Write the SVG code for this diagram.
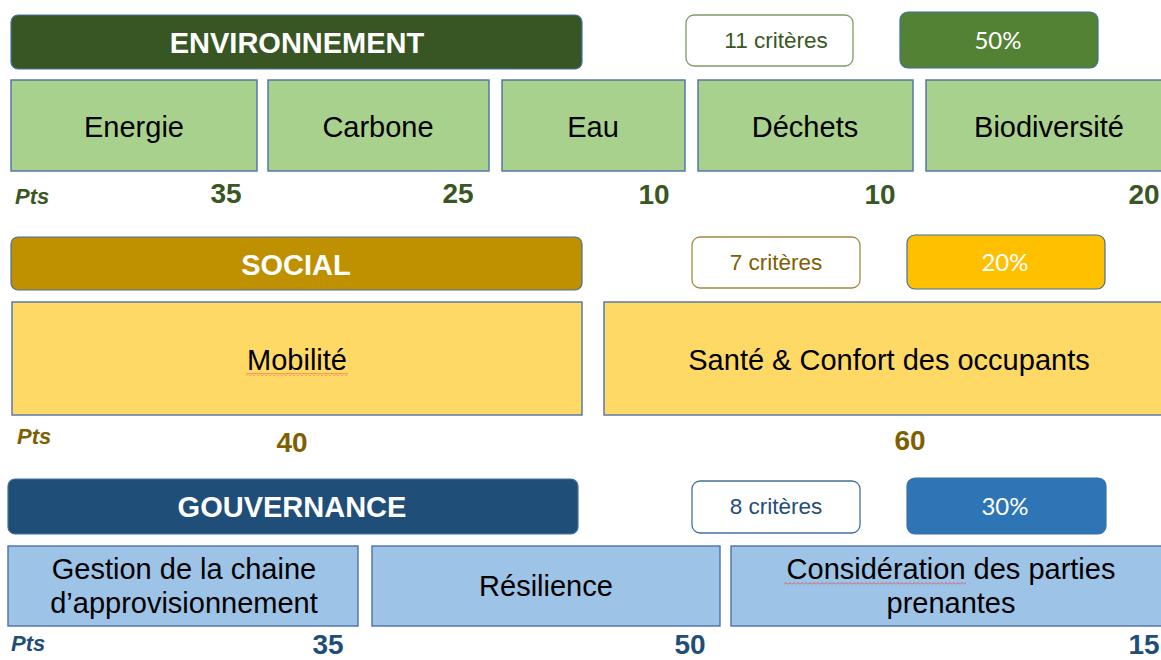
<svg xmlns="http://www.w3.org/2000/svg" width="1161" height="660" viewBox="0 0 1161 660">
<defs>
<style>
.hdr{stroke:#4A6FA0;stroke-width:1.2}
.hdrt{font-family:"Liberation Sans",Arial,sans-serif;font-weight:bold;font-size:29px;fill:#ffffff;text-anchor:middle}
.crit{fill:#ffffff;stroke-width:1.3}
.critt{font-family:"Liberation Sans",Arial,sans-serif;font-size:22.5px;text-anchor:middle}
.pct{stroke:#41719C;stroke-width:1.2}
.pctt{font-family:Lato,"Open Sans",sans-serif;font-size:24px;fill:#ffffff;text-anchor:middle}
.box{stroke:#4F71A8;stroke-width:1.4}
.boxt{font-family:"Liberation Sans",Arial,sans-serif;font-size:29px;fill:#000000;text-anchor:middle}
.pts{font-family:"Liberation Sans",Arial,sans-serif;font-size:22px;font-weight:bold;font-style:italic}
.num{font-family:"Liberation Sans",Arial,sans-serif;font-size:28px;font-weight:bold;text-anchor:middle}
.g{fill:#385723}
.y{fill:#7F6000}
.b{fill:#1F4E79}
</style>
<pattern id="sq" width="4" height="3" patternUnits="userSpaceOnUse">
<path d="M0 2.5 L2 0.5 L4 2.5" stroke="#E05555" stroke-width="0.9" fill="none"/>
</pattern>
</defs>

<!-- ENVIRONNEMENT -->
<g id="env-header"><rect class="hdr" x="11" y="15" width="571" height="54" rx="7" fill="#375623"/><text class="hdrt" x="297" y="53">ENVIRONNEMENT</text></g>
<g id="env-crit"><rect class="crit" x="686" y="15" width="167" height="51" rx="8" stroke="#7F9A65"/><text class="critt g" x="776" y="48">11 critères</text></g>
<g id="env-pct"><rect class="pct" x="900" y="12" width="198" height="56" rx="8" fill="#548235"/><text class="pctt" x="998" y="49">50%</text></g>
<g id="energie"><rect class="box" x="11" y="80" width="246" height="91" fill="#A9D18E"/><text class="boxt" x="134" y="137">Energie</text></g>
<g id="carbone"><rect class="box" x="268" y="80" width="221" height="91" fill="#A9D18E"/><text class="boxt" x="378" y="137">Carbone</text></g>
<g id="eau"><rect class="box" x="502" y="80" width="183" height="91" fill="#A9D18E"/><text class="boxt" x="593" y="137">Eau</text></g>
<g id="dechets"><rect class="box" x="698" y="80" width="215" height="91" fill="#A9D18E"/><text class="boxt" x="805" y="137">Déchets</text></g>
<g id="biodiversite"><rect class="box" x="926" y="80" width="250" height="91" fill="#A9D18E"/><text class="boxt" x="1049" y="137">Biodiversité</text></g>
<g id="env-pts">
<text class="pts g" x="15" y="204">Pts</text>
<text class="num g" x="226" y="203">35</text>
<text class="num g" x="458" y="203">25</text>
<text class="num g" x="654" y="204">10</text>
<text class="num g" x="880" y="204">10</text>
<text class="num g" x="1144" y="204">20</text>
</g>

<!-- SOCIAL -->
<g id="soc-header"><rect class="hdr" x="11" y="237" width="571" height="53" rx="7" fill="#BF9000"/><text class="hdrt" x="296" y="275">SOCIAL</text></g>
<g id="soc-crit"><rect class="crit" x="692" y="237" width="168" height="51" rx="8" stroke="#A08A40"/><text class="critt y" x="776" y="270">7 critères</text></g>
<g id="soc-pct"><rect class="pct" x="907" y="235" width="198" height="54" rx="8" fill="#FFC000"/><text class="pctt" x="1005" y="271">20%</text></g>
<g id="mobilite"><rect class="box" x="12" y="302" width="570" height="113" fill="#FFD966"/><text class="boxt" x="297" y="370">Mobilité</text><rect x="246" y="373" width="102" height="3" fill="url(#sq)"/></g>
<g id="sante"><rect class="box" x="604" y="302" width="570" height="113" fill="#FFD966"/><text class="boxt" x="889" y="370">Santé &amp; Confort des occupants</text></g>
<g id="soc-pts">
<text class="pts y" x="17" y="444">Pts</text>
<text class="num y" x="292" y="452">40</text>
<text class="num y" x="910" y="450">60</text>
</g>

<!-- GOUVERNANCE -->
<g id="gov-header"><rect class="hdr" x="8" y="479" width="570" height="55" rx="7" fill="#1F4E79"/><text class="hdrt" x="292" y="517">GOUVERNANCE</text></g>
<g id="gov-crit"><rect class="crit" x="692" y="481" width="168" height="52" rx="8" stroke="#41719C"/><text class="critt b" x="776" y="514">8 critères</text></g>
<g id="gov-pct"><rect class="pct" x="907" y="478" width="199" height="56" rx="8" fill="#2E75B6"/><text class="pctt" x="1005" y="515">30%</text></g>
<g id="gestion"><rect class="box" x="8" y="546" width="350" height="80" fill="#9DC3E6"/><text class="boxt" x="184" y="579">Gestion de la chaine</text><text class="boxt" x="184" y="613">d’approvisionnement</text></g>
<g id="resilience"><rect class="box" x="372" y="546" width="348" height="80" fill="#9DC3E6"/><text class="boxt" x="546" y="596">Résilience</text></g>
<g id="consideration"><rect class="box" x="731" y="546" width="445" height="80" fill="#9DC3E6"/><text class="boxt" x="951" y="579">Considération des parties</text><text class="boxt" x="951" y="613">prenantes</text><rect x="784" y="582" width="182" height="3" fill="url(#sq)"/></g>
<g id="gov-pts">
<text class="pts b" x="11" y="651">Pts</text>
<text class="num b" x="328" y="654">35</text>
<text class="num b" x="690" y="654">50</text>
<text class="num b" x="1144" y="654">15</text>
</g>

<g id="connectors"></g>
</svg>
